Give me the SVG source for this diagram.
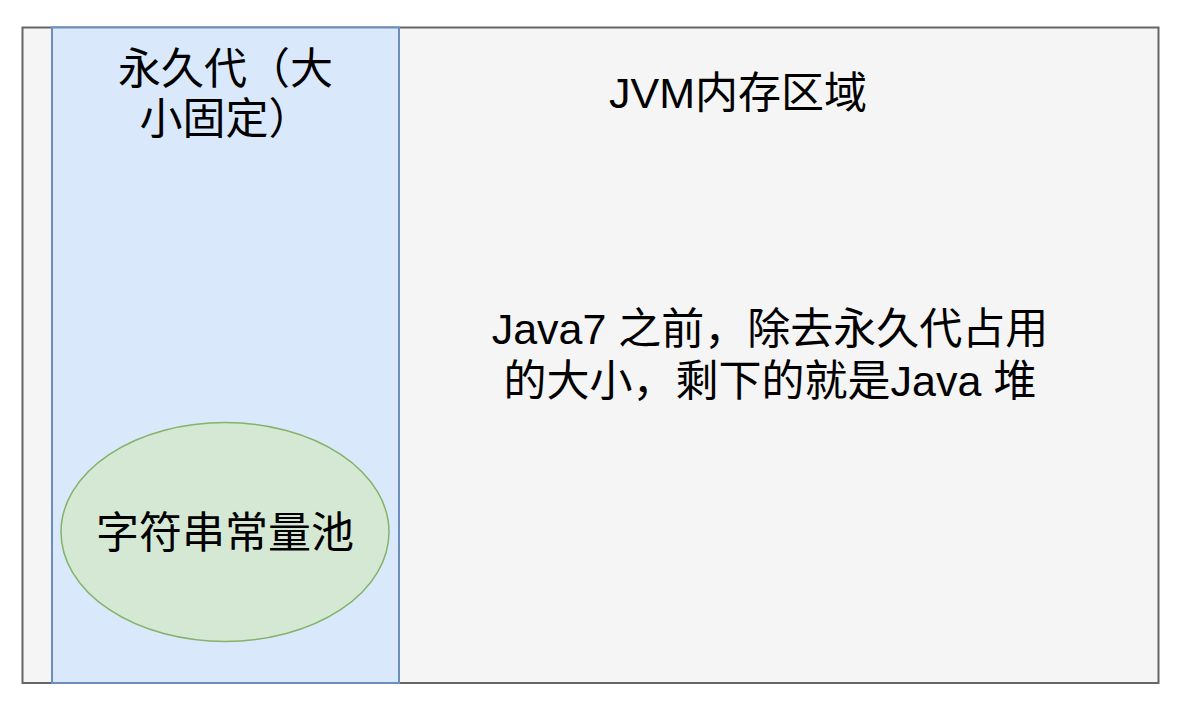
<svg xmlns="http://www.w3.org/2000/svg" width="1189" height="714" viewBox="0 0 1189 714">
<style>
text{font-family:"Liberation Sans","Noto Sans CJK SC",sans-serif;font-size:43px;fill:#000;text-anchor:middle}
</style>
<rect width="1189" height="714" fill="#ffffff"/>
<g id="jvm">
<rect x="22.5" y="27.5" width="1136" height="655.5" fill="#f5f5f5" stroke="#666666" stroke-width="2"/>
<text x="738" y="108">JVM内存区域</text>
</g>
<g id="perm">
<rect x="52" y="27.5" width="347" height="655.5" fill="#dae8fc" stroke="#6c8ebf" stroke-width="2"/>
<text x="225.5" y="84">永久代（大</text>
<text x="225.5" y="134">小固定）</text>
</g>
<g id="pool">
<ellipse cx="225" cy="532" rx="164" ry="109.5" fill="#d5e8d4" stroke="#82b366" stroke-width="1.5"/>
<text x="225" y="548">字符串常量池</text>
</g>
<g id="heap">
<text x="770" y="344">Java7 之前，除去永久代占用</text>
<text x="770" y="396">的大小，剩下的就是Java 堆</text>
</g>
<g id="connectors"/>
</svg>
